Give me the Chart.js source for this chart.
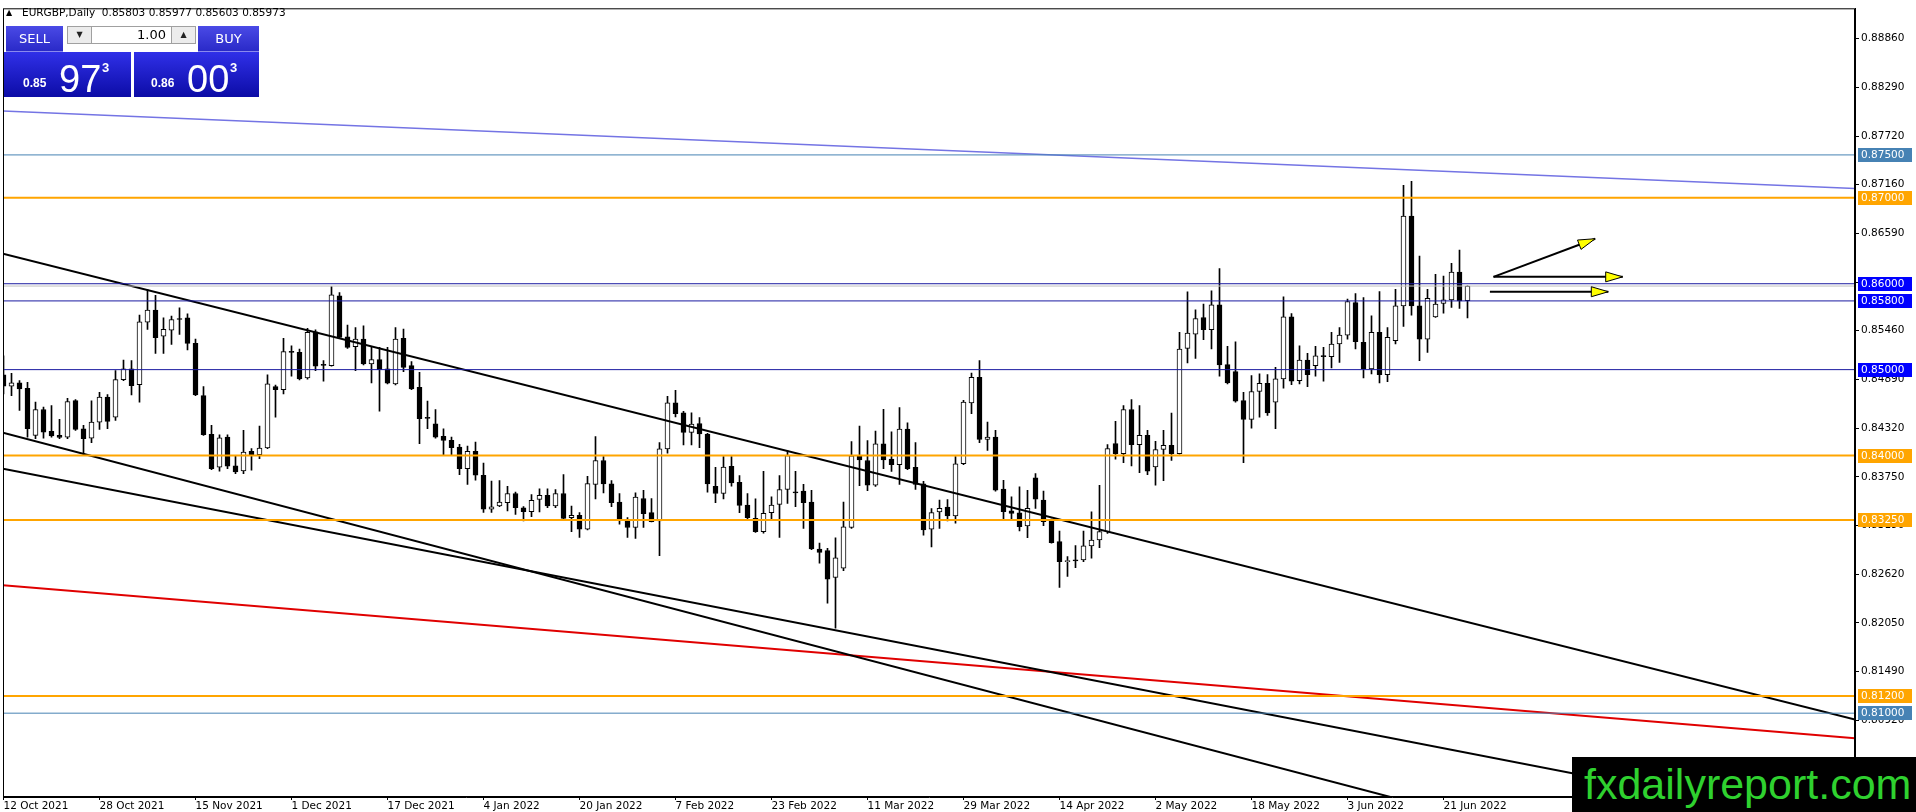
<!DOCTYPE html>
<html>
<head>
<meta charset="utf-8">
<script src="https://cdn.jsdelivr.net/npm/chart.js@4.4.1/dist/chart.umd.min.js"></script>
<style>
  html, body { margin: 0; padding: 0; background: #fff; }
  #wrap { position: relative; width: 1916px; height: 812px; overflow: hidden; }
  #chart { position: absolute; left: 0; top: 0; }
  .ov { position: absolute; font-family: 'DejaVu Sans', sans-serif; color: #000; white-space: pre; }
  .btn { color: #fff; font-size: 13px; text-align: center; line-height: 26px;
         background: linear-gradient(#4a4ae6, #2a2ac8); border-bottom: 1px solid #8a8aee; box-sizing: border-box; }
  .spin { background: #ececec; border: 1px solid #a0a0a0; box-sizing: border-box; font-size: 8px; text-align: center; line-height: 16px; color: #222; }
  .lot { background: #fff; border: 1px solid #a0a0a0; border-left: none; border-right: none; box-sizing: border-box; font-size: 13px; text-align: right; line-height: 16px; padding-right: 5px; }
  .price { background: linear-gradient(#3030e8, #0c0ca6); color: #fff; font-family: 'Liberation Sans', Arial, sans-serif; }
  .price span { position: absolute; line-height: 1; }
  .sm { font-size: 12px; font-weight: bold; }
  .big { font-size: 38px; }
  .sup { font-size: 13px; font-weight: bold; }
  #mark { left: 1572px; top: 757px; width: 344px; height: 55px; background: #000; color: #2fd12f;
          font-family: 'Liberation Sans', Arial, sans-serif; font-size: 43px; line-height: 55px; padding-left: 12px; box-sizing: border-box; }
</style>
</head>
<body>
<div id="wrap">
  <canvas id="chart" width="1916" height="812" style="width:1916px;height:812px"></canvas>
  <div class="ov" style="left:6px;top:8px;font-size:8px;">▲</div>
  <div class="ov" style="left:22px;top:6px;font-size:10.5px;line-height:13px;">EURGBP,Daily  0.85803 0.85977 0.85603 0.85973</div>
  <div class="ov btn" style="left:6px;top:26px;width:57px;height:26px;">SELL</div>
  <div class="ov spin" style="left:67px;top:26px;width:25px;height:18px;">▼</div>
  <div class="ov lot" style="left:92px;top:26px;width:79px;height:18px;">1.00</div>
  <div class="ov spin" style="left:171px;top:26px;width:25px;height:18px;">▲</div>
  <div class="ov btn" style="left:198px;top:26px;width:61px;height:26px;">BUY</div>
  <div class="ov price" style="left:4px;top:52px;width:127px;height:45px;">
    <span class="sm" style="left:19px;top:25px;">0.85</span>
    <span class="big" style="left:55px;top:8px;">97</span>
    <span class="sup" style="left:98px;top:9px;">3</span>
  </div>
  <div class="ov price" style="left:134px;top:52px;width:125px;height:45px;">
    <span class="sm" style="left:17px;top:25px;">0.86</span>
    <span class="big" style="left:53px;top:8px;">00</span>
    <span class="sup" style="left:96px;top:9px;">3</span>
  </div>
  <div class="ov" id="mark">fxdailyreport.com</div>
</div>
<script>
// EURGBP daily candles, 12 Oct 2021 .. 24 Jun 2022 (one entry per bar)
const open = [
  .84938,.84807,.84845,.84783,.84234,.84536,.84281,.84234,.84215,.84640,
  .84312,.84203,.84389,.84679,.84447,.84884,.85008,.84826,.85553,.85692,
  .85390,.85460,.85595,.85603,.85305,.84698,.84246,.83863,.84215,.83879,
  .83821,.84049,.84010,.84087,.84803,.84768,.85209,.85201,.84903,.85441,
  .85054,.85046,.85858,.85383,.85267,.85356,.85066,.85116,.85008,.84834,
  .85364,.85046,.84795,.84435,.84370,.84223,.84176,.84099,.83848,.84049,
  .83770,.83376,.83412,.83450,.83558,.83392,.83346,.83488,.83535,.83412,
  .83558,.83277,.83304,.83142,.83662,.83942,.83669,.83458,.83238,.83162,
  .83500,.83335,.83238,.84077,.84612,.84496,.84269,.84373,.84250,.83642,
  .83558,.83873,.83688,.83423,.83269,.83112,.83335,.83431,.83604,.83577,
  .83585,.83458,.82912,.82892,.82580,.82688,.83162,.83996,.83942,.83654,
  .84135,.83958,.83892,.84308,.83862,.83669,.83142,.83342,.83400,.83296,
  .83904,.84613,.84911,.84188,.84215,.83608,.83357,.83333,.83179,.83739,
  .83480,.83237,.82997,.82765,.82784,.82784,.82947,.83016,.83113,.84138,
  .84022,.84536,.84126,.84234,.83867,.84072,.84118,.84022,.85247,.85414,
  .85607,.85464,.85754,.85058,.84977,.84640,.84420,.84745,.84841,.84621,
  .84892,.85615,.84872,.85112,.85046,.85162,.85151,.85298,.85402,.85781,
  .85317,.85008,.85433,.84942,.85336,.85742,.86787,.85742,.85356,.85615,
  .85770,.85812,.86137,.85803
];
const high = [
  .85162,.84957,.84872,.84853,.84621,.84563,.84582,.84420,.84667,.84652,
  .84350,.84636,.84737,.84710,.84988,.85112,.85104,.85634,.85932,.85866,
  .85603,.85623,.85719,.85650,.85356,.84803,.84350,.84242,.84242,.84002,
  .84292,.84080,.84343,.84938,.84820,.85364,.85278,.85240,.85480,.85464,
  .85104,.85967,.85897,.85518,.85491,.85510,.85259,.85259,.85259,.85491,
  .85472,.85093,.84969,.84633,.84536,.84312,.84215,.84130,.84111,.84157,
  .83913,.83701,.83708,.83642,.83573,.83404,.83546,.83612,.83612,.83604,
  .83777,.83412,.83335,.83758,.84219,.83988,.83708,.83558,.83277,.83565,
  .83596,.83500,.84150,.84688,.84758,.84515,.84496,.84442,.84258,.83862,
  .83988,.83988,.83765,.83558,.83496,.83815,.83519,.83765,.84054,.83815,
  .83665,.83596,.82981,.82919,.83043,.83458,.84162,.84342,.84173,.84285,
  .84538,.84277,.84558,.84381,.84150,.83700,.83381,.83481,.83488,.83988,
  .84642,.84961,.85104,.84389,.84292,.83712,.83519,.83635,.83596,.83790,
  .83585,.83260,.83121,.82823,.82950,.83121,.83345,.83654,.84126,.84397,
  .84582,.84652,.84582,.84292,.84165,.84292,.84493,.85433,.85905,.85696,
  .85762,.85916,.86176,.85271,.85325,.84737,.84930,.84950,.84942,.85027,
  .85847,.85654,.85278,.85189,.85271,.85259,.85433,.85491,.85820,.85886,
  .85839,.85626,.85909,.85491,.85936,.87146,.87193,.86323,.85936,.86110,
  .86090,.86237,.86392,.85977
];
const low = [
  .84718,.84698,.84524,.84215,.84196,.84203,.84215,.84196,.84196,.84292,
  .84002,.84149,.84304,.84312,.84408,.84872,.84706,.84621,.85468,.85189,
  .85189,.85294,.85410,.85228,.84698,.84234,.83836,.83817,.83848,.83790,
  .83790,.83828,.83964,.84080,.84447,.84718,.84923,.84880,.84890,.84988,
  .84865,.85039,.85364,.85247,.84988,.85054,.84845,.84517,.84834,.84822,
  .84977,.84768,.84138,.84312,.84203,.84010,.84010,.83778,.83662,.83712,
  .83337,.83337,.83404,.83354,.83315,.83238,.83288,.83342,.83392,.83392,
  .83258,.83112,.83046,.83135,.83496,.83565,.83404,.83200,.83046,.83035,
  .83162,.83227,.82835,.84027,.84450,.84123,.84123,.84092,.83573,.83450,
  .83496,.83642,.83335,.83265,.83104,.83096,.83265,.83046,.83442,.83404,
  .83150,.82904,.82746,.82281,.81991,.82658,.83150,.83650,.83592,.83640,
  .83846,.83815,.83662,.83835,.83604,.83073,.82935,.83150,.83238,.83212,
  .83892,.84486,.84149,.84060,.83585,.83260,.83260,.83121,.83043,.83384,
  .83183,.82978,.82463,.82591,.82695,.82765,.82804,.82927,.83094,.83956,
  .83917,.83879,.83801,.83778,.83654,.83708,.83944,.84015,.85077,.85131,
  .85348,.85240,.84923,.84834,.84621,.83917,.84319,.84447,.84466,.84312,
  .84783,.84826,.84834,.84803,.84923,.84865,.85019,.85085,.85356,.85240,
  .84903,.84950,.84845,.84861,.85298,.85503,.85634,.85104,.85201,.85607,
  .85657,.85723,.85712,.85603
];
const close = [
  .84807,.84845,.84776,.84312,.84536,.84273,.84227,.84211,.84629,.84304,
  .84196,.84389,.84679,.84397,.84884,.85008,.84814,.85557,.85692,.85371,
  .85468,.85584,.85584,.85305,.84706,.84242,.83848,.84207,.83875,.83809,
  .84041,.84010,.84087,.84834,.84768,.85209,.85201,.84892,.85433,.85039,
  .85050,.85870,.85375,.85259,.85356,.85066,.85116,.85000,.84841,.85356,
  .85027,.84776,.84428,.84433,.84215,.84176,.84091,.83848,.84049,.83770,
  .83376,.83403,.83458,.83558,.83392,.83346,.83477,.83535,.83412,.83558,
  .83269,.83304,.83142,.83673,.83942,.83669,.83450,.83258,.83162,.83515,
  .83323,.83231,.84077,.84612,.84488,.84269,.84365,.84250,.83669,.83558,
  .83865,.83681,.83419,.83277,.83112,.83327,.83423,.83604,.84000,.83565,
  .83450,.82912,.82873,.82560,.82808,.83169,.83996,.83950,.83654,.84135,
  .83950,.83892,.84308,.83846,.83662,.83135,.83335,.83385,.83296,.83904,
  .84623,.84911,.84188,.84215,.83596,.83345,.83326,.83171,.83384,.83492,
  .83229,.82985,.82765,.82773,.82773,.82947,.83016,.83113,.84080,.84022,
  .84536,.84126,.84234,.83817,.84068,.84118,.84022,.85240,.85425,.85595,
  .85464,.85754,.85054,.84845,.84633,.84420,.84745,.84841,.84497,.84892,
  .85615,.84865,.85112,.84942,.85162,.85151,.85298,.85402,.85793,.85325,
  .85008,.85433,.84942,.85375,.85742,.86787,.85742,.85356,.85831,.85762,
  .85812,.86137,.85800,.85973
];
const bars = open.map((_, i) => i);

// date labels, one every 12 bars
const tickLabels = ['12 Oct 2021','28 Oct 2021','15 Nov 2021','1 Dec 2021','17 Dec 2021','4 Jan 2022',
  '20 Jan 2022','7 Feb 2022','23 Feb 2022','11 Mar 2022','29 Mar 2022','14 Apr 2022',
  '2 May 2022','18 May 2022','3 Jun 2022','21 Jun 2022'];
const tickStep = 12;
const yTicks = [0.88860,0.88290,0.87720,0.87160,0.86590,0.86020,0.85460,0.84890,
  0.84320,0.83750,0.83190,0.82620,0.82050,0.81490,0.80920];

// horizontal levels drawn on the chart
const levels = [0.87500, 0.87000, 0.86000, 0.85800, 0.85000, 0.84000, 0.83250, 0.81200, 0.81000];
const bidPrice = 0.85973;

// trendlines and arrows: [bar0, price0, bar1, price1]
const xMin = -0.0625, xMax = 231.4375;
const trendLines = [
  [xMin, 0.88010, xMax, 0.87110],
  [xMin, 0.86350, xMax, 0.80927],
  [xMin, 0.84266, xMax, 0.78604],
  [xMin, 0.83845, xMax, 0.79662],
  [xMin, 0.82489, xMax, 0.80709]
];
const arrows = [
  [186.25, 0.86080, 198.96, 0.86524],
  [186.25, 0.86080, 202.40, 0.86080],
  [185.80, 0.85907, 200.60, 0.85907]
];

const levelColor = { 0.875: '#4682b4', 0.81: '#4682b4', 0.87: '#ffa500', 0.84: '#ffa500', 0.8325: '#ffa500', 0.812: '#ffa500' };
const lineColor = v => levelColor[v] || '#1a1aa0';
const boxColor = v => levelColor[v] || '#0000ff';
const trendColor = ['#7474e4', '#000', '#000', '#000', '#e00000'];

const font = { family: 'DejaVu Sans', size: 10.5 };

const datasets = [];
datasets.push({
  type: 'bar', label: 'body', order: 1, grouped: false,
  data: bars.map(i => ({ x: i, y: [Math.min(open[i], close[i]), Math.max(open[i], close[i])] })),
  backgroundColor: bars.map(i => close[i] >= open[i] ? '#fff' : '#000'),
  borderColor: '#000', borderWidth: 1, borderSkipped: false, barThickness: 5, minBarLength: 1
});
datasets.push({
  type: 'bar', label: 'wick', order: 2, grouped: false,
  data: bars.map(i => ({ x: i, y: [low[i], high[i]] })),
  backgroundColor: '#000', borderWidth: 0, barThickness: 1
});
datasets.push({
  type: 'line', order: 0, data: [{ x: xMin, y: bidPrice }, { x: xMax, y: bidPrice }],
  borderColor: '#c0c0c0', borderWidth: 1, pointRadius: 0
});
levels.forEach(v => datasets.push({
  type: 'line', order: 0, data: [{ x: xMin, y: v }, { x: xMax, y: v }],
  borderColor: lineColor(v), borderWidth: levelColor[v] === '#ffa500' ? 2 : 1, pointRadius: 0
}));
trendLines.forEach((t, k) => datasets.push({
  type: 'line', order: 0, data: [{ x: t[0], y: t[1] }, { x: t[2], y: t[3] }],
  borderColor: trendColor[k], borderWidth: k === 0 ? 1.5 : 2, pointRadius: 0
}));
arrows.forEach(a => datasets.push({
  type: 'line', order: 0, data: [{ x: a[0], y: a[1] }, { x: a[2], y: a[3] }],
  borderColor: '#000', borderWidth: 2, pointRadius: 0
}));

const decor = {
  id: 'decor',
  afterDatasetsDraw(chart) {
    const { ctx, chartArea: a, scales: { x, y } } = chart;
    ctx.save();
    // arrow heads
    arrows.forEach(ar => {
      const x0 = x.getPixelForValue(ar[0]), y0 = y.getPixelForValue(ar[1]);
      const x1 = x.getPixelForValue(ar[2]), y1 = y.getPixelForValue(ar[3]);
      const ang = Math.atan2(y1 - y0, x1 - x0);
      const len = 17, half = 5;
      const bx = x1 - len * Math.cos(ang), by = y1 - len * Math.sin(ang);
      ctx.beginPath();
      ctx.moveTo(x1, y1);
      ctx.lineTo(bx + half * Math.sin(ang), by - half * Math.cos(ang));
      ctx.lineTo(bx - half * Math.sin(ang), by + half * Math.cos(ang));
      ctx.closePath();
      ctx.fillStyle = '#ffff00';
      ctx.fill();
      ctx.strokeStyle = '#000';
      ctx.lineWidth = 1;
      ctx.stroke();
    });
    // frame
    ctx.strokeStyle = '#000';
    ctx.lineWidth = 1;
    ctx.strokeRect(a.left + 0.5, a.top + 0.5, a.right - a.left - 1, a.bottom - a.top - 1);
    ctx.restore();
  },
  afterDraw(chart) {
    const { ctx, scales: { y } } = chart;
    ctx.save();
    ctx.font = '10.5px "DejaVu Sans"';
    ctx.textBaseline = 'middle';
    levels.forEach(v => {
      const py = Math.round(y.getPixelForValue(v));
      ctx.fillStyle = boxColor(v);
      ctx.fillRect(1858, py - 7, 54, 14);
      ctx.fillStyle = '#fff';
      ctx.fillText(v.toFixed(5), 1861, py + 0.5);
    });
    ctx.restore();
  }
};

new Chart(document.getElementById('chart'), {
  type: 'bar',
  data: { datasets },
  options: {
    responsive: false,
    animation: false,
    devicePixelRatio: 1,
    layout: { padding: { left: 3, top: 4, right: 0, bottom: 0 } },
    plugins: { legend: { display: false }, tooltip: { enabled: false } },
    events: [],
    scales: {
      x: {
        type: 'linear', min: xMin, max: xMax, offset: false,
        afterBuildTicks: s => { s.ticks = tickLabels.map((_, k) => ({ value: k * tickStep })); },
        afterFit: s => { s.height = 15; },
        ticks: { align: 'start', maxRotation: 0, autoSkip: false, color: '#000', font, padding: 0,
                 callback: v => tickLabels[Math.round(v / tickStep)] },
        grid: { drawOnChartArea: false, tickLength: 3, color: '#000', offset: false },
        border: { display: true, color: '#000' }
      },
      y: {
        type: 'linear', position: 'right', min: 0.80024, max: 0.89207,
        afterBuildTicks: s => { s.ticks = yTicks.map(v => ({ value: v })); },
        afterFit: s => { s.width = 61; },
        ticks: { color: '#000', font, padding: 2, callback: v => v.toFixed(5) },
        grid: { drawOnChartArea: false, tickLength: 4, color: '#000' },
        border: { display: true, color: '#000' }
      }
    }
  },
  plugins: [decor]
});
</script>
</body>
</html>
